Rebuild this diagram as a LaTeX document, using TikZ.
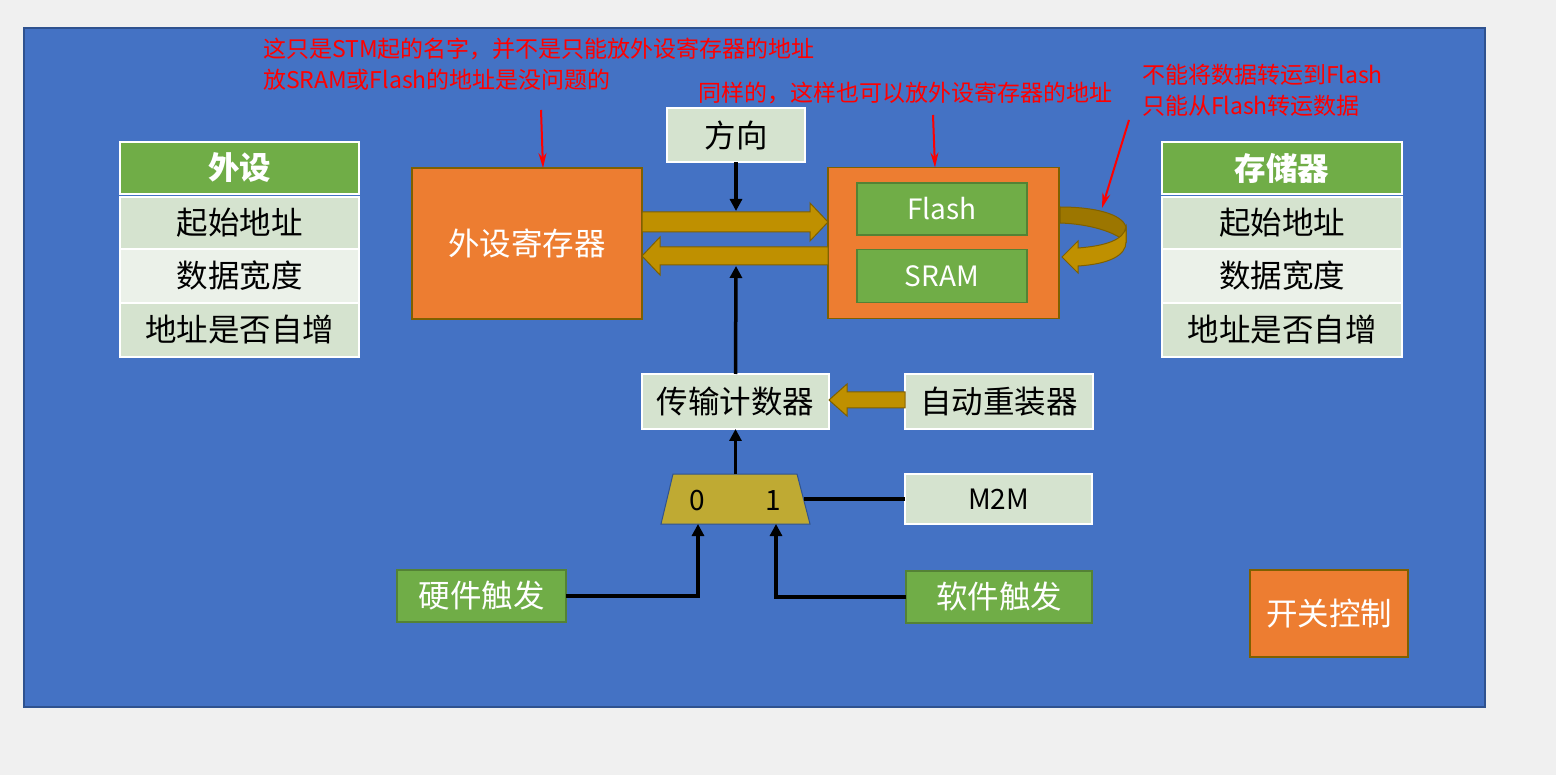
\documentclass[tikz,border=0pt]{standalone}
\usepackage{fontspec}
\setmainfont{Noto Sans CJK SC}
\usetikzlibrary{arrows.meta,calc}
\definecolor{cBg}{HTML}{F0F0F0}
\definecolor{cBlue}{HTML}{4472C4}
\definecolor{cBlueEdge}{HTML}{2F528F}
\definecolor{cGreen}{HTML}{70AD47}
\definecolor{cGreenEdge}{HTML}{548235}
\definecolor{cOrange}{HTML}{ED7D31}
\definecolor{cBrown}{HTML}{7F6000}
\definecolor{cGold}{HTML}{BF9000}
\definecolor{cGoldDark}{HTML}{9C7600}
\definecolor{cLight}{HTML}{D5E3CF}
\definecolor{cLighter}{HTML}{EBF1E9}
\definecolor{cMux}{HTML}{BFAA33}
\definecolor{cRed}{HTML}{FF0000}
\newcommand\FBig{\fontsize{31.5}{37}\selectfont}
\newcommand\FMid{\fontsize{28}{33}\selectfont}
\newcommand\FRed{\fontsize{23}{31}\selectfont}
\begin{document}
\begin{tikzpicture}[x=1pt,y=-1pt,
  every node/.style={inner sep=0pt, outer sep=0pt},
  light/.style={draw=white, line width=1.5pt, fill=cLight, text=black, font=\FBig},
  lighter/.style={light, fill=cLighter},
  hdr/.style={draw=white, line width=1.5pt, fill=cGreen, text=white, font=\FBig\bfseries},
  gbox/.style={draw=cGreenEdge, line width=1.5pt, fill=cGreen, text=white, font=\FBig},
  obox/.style={draw=cBrown, line width=1.5pt, fill=cOrange, text=white, font=\FBig},
  fat/.style={draw=cBrown, line width=1pt, fill=cGold},
  blk/.style={draw=black, line width=3.5pt, -{Triangle[length=12pt,width=12pt]}},
  blkline/.style={draw=black, line width=3.5pt},
  redarrow/.style={draw=cRed, line width=2pt, -{Stealth[length=15pt,width=8pt]}},
  redtext/.style={text=cRed, font=\FRed, align=left, anchor=west}
]
\useasboundingbox (0,0) rectangle (1556,775);
\fill[cBg] (0,0) rectangle (1556,775);
\draw[fill=cBlue, draw=cBlueEdge, line width=1.5pt] (24,28) rectangle (1485,707);

% left table
\node[hdr, minimum width=239pt, minimum height=52pt] (lh) at (239.5,168) {外设};
\node[light, minimum width=239pt, minimum height=52pt] (l1) at (239.5,223) {起始地址};
\node[lighter, minimum width=239pt, minimum height=54pt] (l2) at (239.5,276) {数据宽度};
\node[light, minimum width=239pt, minimum height=54pt] (l3) at (239.5,330) {地址是否自增};

% right table
\node[hdr, minimum width=240pt, minimum height=52pt] (rh) at (1282,168) {存储器};
\node[light, minimum width=240pt, minimum height=52pt] (r1) at (1282,223) {起始地址};
\node[lighter, minimum width=240pt, minimum height=54pt] (r2) at (1282,276) {数据宽度};
\node[light, minimum width=240pt, minimum height=54pt] (r3) at (1282,330) {地址是否自增};

% main boxes
\node[obox, minimum width=230pt, minimum height=151pt] (reg) at (527,243.5) {外设寄存器};
\node[obox, minimum width=231pt, minimum height=151pt] (mem) at (943.5,243) {};
\node[gbox, font=\FMid, minimum width=170pt, minimum height=52pt] (flash) at (942,209) {Flash};
\node[gbox, font=\FMid, minimum width=170pt, minimum height=53pt] (sram) at (942,276) {SRAM};

\node[light, minimum width=138pt, minimum height=54pt] (dir) at (736,135) {方向};
\node[light, minimum width=187pt, minimum height=55pt] (cnt) at (735.5,401.5) {传输计数器};
\node[light, minimum width=188pt, minimum height=55pt] (reload) at (999,401.5) {自动重装器};
\node[light, font=\FMid, minimum width=187pt, minimum height=50pt] (m2m) at (998.5,499) {M2M};
\node[gbox, minimum width=169pt, minimum height=52pt] (hw) at (481.5,596) {硬件触发};
\node[gbox, minimum width=186pt, minimum height=52pt] (sw) at (999,597) {软件触发};
\node[obox, minimum width=158pt, minimum height=87pt] (ctrl) at (1329,613.5) {开关控制};

% mux
\node[minimum width=149pt, minimum height=50pt] (mux) at (735.5,499) {};
\draw[fill=cMux, draw=cBlueEdge, line width=1pt]
  ($(mux.north west)+(12,0)$) -- ($(mux.north east)+(-13,0)$) -- (mux.south east) -- (mux.south west) -- cycle;
\node[font=\FMid] (m0) at (697,501) {0};
\node[font=\FMid] (m1) at (773,501) {1};
\coordinate (in0) at (698,524);
\coordinate (in1) at (776,524);
\coordinate (muxr) at (803.5,499);

% fat arrows between reg and mem
\draw[fat] (reg.east |- 0,212) -- (810,212) -- (810,203) -- (mem.west |- 0,222) -- (810,241) -- (810,232) -- (reg.east |- 0,232) -- cycle;
\draw[fat] (mem.west |- 0,247) -- (660,247) -- (660,237) -- (reg.east |- 0,256) -- (660,275) -- (660,265) -- (mem.west |- 0,265) -- cycle;
\coordinate (fwdtop) at (736,211);
\coordinate (backbot) at (736,266);

% reload arrow
\draw[fat] (reload.west |- 0,392) -- (847,392) -- (847,384) -- (cnt.east |- 0,400) -- (847,416) -- (847,408) -- (reload.west |- 0,408) -- cycle;

% curved self arrow on memory
\draw[draw=cBrown, line width=1pt, fill=cGoldDark]
  (1060,207) .. controls (1095,207) and (1122,214) .. (1126,227) -- (1126,242)
  .. controls (1115,232) and (1090,224) .. (1060,223) -- cycle;
\draw[draw=cBrown, line width=1pt, fill=cGold]
  (1126,227) .. controls (1124,240) and (1105,246) .. (1078,248) -- (1078,241) -- (1062,257) -- (1078,273) -- (1078,266)
  .. controls (1110,264) and (1126,255) .. (1126,242) -- cycle;
\coordinate (curvetop) at (1102,208);

% black connectors
\draw[blk] (dir.south) -- (fwdtop);
\draw[blk] (cnt.north) -- (backbot);
\draw[blk] (mux.north) -- (cnt.south);
\draw[blkline] (muxr) -- (m2m.west);
\draw[blk] (hw.east) -| (in0);
\draw[blk] (sw.west) -| (in1);

% red notes
\node[redtext] (n1) at (263,64.5) {这只是STM起的名字，并不是只能放外设寄存器的地址\\放SRAM或Flash的地址是没问题的};
\node[redtext] (n2) at (698,93) {同样的，这样也可以放外设寄存器的地址};
\node[redtext] (n3) at (1142,90) {不能将数据转运到Flash\\只能从Flash转运数据};
\coordinate (a1s) at (541,110);
\coordinate (a2s) at (933,115);
\coordinate (a3s) at (1129,120);
\draw[redarrow] (a1s) -- (reg.north -| 543,0);
\draw[redarrow] (a2s) -- (mem.north -| 935,0);
\draw[redarrow] (a3s) -- (curvetop);
\end{tikzpicture}
\end{document}
